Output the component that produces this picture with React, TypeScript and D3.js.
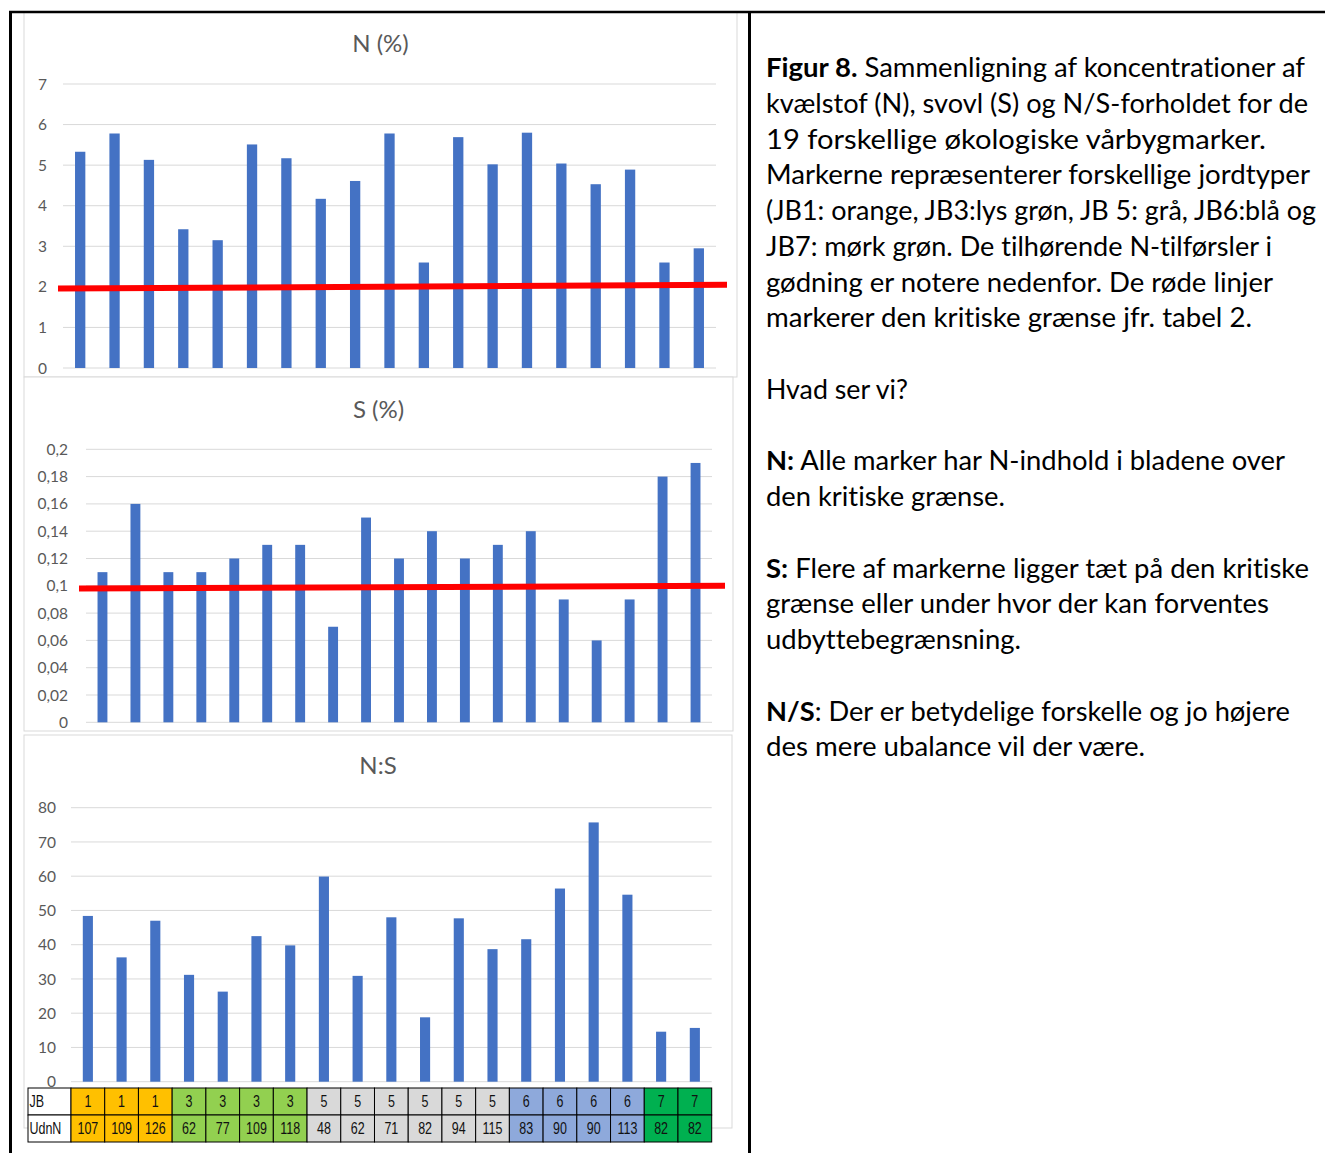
import React from 'react';
import * as d3 from 'd3';

// 19 organic spring barley fields
const fieldIds = ['1', '2', '3', '4', '5', '6', '7', '8', '9', '10', '11', '12', '13', '14', '15', '16', '17', '18', '19'];

const nPercent = [5.33, 5.78, 5.13, 3.42, 3.15, 5.51, 5.17, 4.17, 4.61, 5.78, 2.6, 5.69, 5.02, 5.8, 5.04, 4.53, 4.89, 2.6, 2.95];
const sPercent = [0.11, 0.16, 0.11, 0.11, 0.12, 0.13, 0.13, 0.07, 0.15, 0.12, 0.14, 0.12, 0.13, 0.14, 0.09, 0.06, 0.09, 0.18, 0.19];
const nsRatio = [48.4, 36.3, 47.0, 31.2, 26.3, 42.5, 39.8, 59.9, 30.9, 48.0, 18.8, 47.7, 38.7, 41.6, 56.4, 75.7, 54.6, 14.6, 15.7];

const jbTypes = [1, 1, 1, 3, 3, 3, 3, 5, 5, 5, 5, 5, 5, 6, 6, 6, 6, 7, 7];
const udnN = [107, 109, 126, 62, 77, 109, 118, 48, 62, 71, 82, 94, 115, 83, 90, 90, 113, 82, 82];

// critical limit (hand drawn, slightly tilted: start / end value)
const nCritical = [1.96, 2.05];
const sCritical = [0.098, 0.1];

const jbColor: Record<number, string> = {
  1: '#FFC000',
  3: '#92D050',
  5: '#D9D9D9',
  6: '#8EA9DB',
  7: '#00B050',
};

const FONT = "Lato, 'Open Sans', sans-serif";
const BAR = '#4472C4';
const GRID = '#D9D9D9';
const LABEL = '#595959';

const locale = d3.formatLocale({ decimal: ',', thousands: '.', grouping: [3], currency: ['', ' kr'] });
const fmtComma = locale.format('~r');

interface PanelLayout {
  box: [number, number, number, number];
  gridX: [number, number];
  yTop: number;
  yBottom: number;
  titleY: number;
  labelX: number;
  redX?: [number, number];
}

interface BarPanelProps {
  title: string;
  values: number[];
  domain: [number, number];
  tickCount: number;
  layout: PanelLayout;
  critical?: number[];
}

const BarPanel: React.FC<BarPanelProps> = ({ title, values, domain, tickCount, layout, critical }) => {
  const [bx0, by0, bx1, by1] = layout.box;
  const x = d3.scaleBand<string>().domain(fieldIds).range(layout.gridX).paddingInner(0.7).paddingOuter(0.35);
  const y = d3.scaleLinear().domain(domain).range([layout.yBottom, layout.yTop]);
  const ticks = y.ticks(tickCount);

  const redPath =
    critical && layout.redX
      ? d3.line()([
          [layout.redX[0], y(critical[0])],
          [layout.redX[1], y(critical[1])],
        ])
      : null;

  return (
    <g>
      <rect x={bx0} y={by0} width={bx1 - bx0} height={by1 - by0} fill="#fff" stroke={GRID} strokeWidth={1} />
      <text x={(bx0 + bx1) / 2} y={layout.titleY} dy="0.35em" textAnchor="middle" fontFamily={FONT} fontSize={24} fill={LABEL}>
        {title}
      </text>

      {/* gridlines + labels */}
      {ticks.map((t) => (
        <g key={t}>
          <line x1={layout.gridX[0]} x2={layout.gridX[1]} y1={y(t)} y2={y(t)} stroke={GRID} strokeWidth={1} />
          <text x={layout.labelX} y={y(t)} dy="0.36em" textAnchor="end" fontFamily={FONT} fontSize={15.5} fill={LABEL}>
            {fmtComma(t)}
          </text>
        </g>
      ))}

      {values.map((v, i) => (
        <rect
          key={fieldIds[i]}
          x={x(fieldIds[i])}
          y={y(v)}
          width={x.bandwidth()}
          height={y(domain[0]) - y(v)}
          fill={BAR}
        />
      ))}

      {redPath && <path d={redPath} stroke="#FF0000" strokeWidth={6} fill="none" />}
    </g>
  );
};

const nLayout: PanelLayout = { box: [24, 12, 737, 377], gridX: [63, 716], yTop: 84, yBottom: 368, titleY: 44, labelX: 47, redX: [58, 727] };
const sLayout: PanelLayout = { box: [24, 377, 733, 731], gridX: [86, 712], yTop: 449.3, yBottom: 722.3, titleY: 410, labelX: 68, redX: [79, 725] };
const nsLayout: PanelLayout = { box: [24, 735, 732, 1128], gridX: [71, 711.7], yTop: 807.7, yBottom: 1081.7, titleY: 766, labelX: 56 };

const JbTable: React.FC = () => {
  const col = d3.scaleBand<string>().domain(fieldIds).range(nsLayout.gridX);
  const rowY = [1088, 1115, 1142];
  const rows: { label: string; cells: number[] }[] = [
    { label: 'JB', cells: jbTypes },
    { label: 'UdnN', cells: udnN },
  ];
  const cellText = (cx: number, cy: number, s: string, anchor: string) => (
    <text
      transform={`translate(${cx},${cy}) scale(0.78,1)`}
      textAnchor={anchor}
      dy="0.36em"
      fontFamily="'Liberation Sans', Arial, sans-serif"
      fontSize={16}
      fill="#111"
    >
      {s}
    </text>
  );
  return (
    <g>
      {rows.map((r, ri) => {
        const y0 = rowY[ri];
        const h = rowY[ri + 1] - y0;
        return (
          <g key={r.label}>
            <rect x={28} y={y0} width={nsLayout.gridX[0] - 28} height={h} fill="#fff" stroke="#000" strokeWidth={1} />
            {cellText(29.5, y0 + h / 2, r.label, 'start')}
            {r.cells.map((c, i) => (
              <g key={i}>
                <rect x={col(fieldIds[i])} y={y0} width={col.bandwidth()} height={h} fill={jbColor[jbTypes[i]]} stroke="#000" strokeWidth={1} />
                {cellText((col(fieldIds[i]) ?? 0) + col.bandwidth() / 2, y0 + h / 2, String(c), 'middle')}
              </g>
            ))}
          </g>
        );
      })}
    </g>
  );
};

// caption text on the right, row index on a fixed line grid
const captionLines: { row: number; parts: [string, boolean][]; width: number }[] = [
  { row: 0, parts: [['Figur 8.', true], [' Sammenligning af koncentrationer af', false]], width: 539 },
  { row: 1, parts: [['kvælstof (N), svovl (S) og N/S-forholdet for de', false]], width: 542 },
  { row: 2, parts: [['19 forskellige økologiske vårbygmarker.', false]], width: 500 },
  { row: 3, parts: [['Markerne repræsenterer forskellige jordtyper', false]], width: 544 },
  { row: 4, parts: [['(JB1: orange, JB3:lys grøn, JB 5: grå, JB6:blå og', false]], width: 550 },
  { row: 5, parts: [['JB7: mørk grøn. De tilhørende N-tilførsler i', false]], width: 506 },
  { row: 6, parts: [['gødning er notere nedenfor. De røde linjer', false]], width: 507 },
  { row: 7, parts: [['markerer den kritiske grænse jfr. tabel 2.', false]], width: 486 },
  { row: 9, parts: [['Hvad ser vi?', false]], width: 142 },
  { row: 11, parts: [['N:', true], [' Alle marker har N-indhold i bladene over', false]], width: 519 },
  { row: 12, parts: [['den kritiske grænse.', false]], width: 239 },
  { row: 14, parts: [['S:', true], [' Flere af markerne ligger tæt på den kritiske', false]], width: 543 },
  { row: 15, parts: [['grænse eller under hvor der kan forventes', false]], width: 503 },
  { row: 16, parts: [['udbyttebegrænsning.', false]], width: 255 },
  { row: 18, parts: [['N/S', true], [': Der er betydelige forskelle og jo højere', false]], width: 524 },
  { row: 19, parts: [['des mere ubalance vil der være.', false]], width: 379 },
];

export default function App() {
  const W = 1325;
  const H = 1153;
  const captionY = d3.scaleLinear().domain([0, 1]).range([77, 112.75]);

  return (
    <svg width={W} height={H} style={{ position: 'absolute', left: 0, top: 0, display: 'block' }}>
      <rect width={W} height={H} fill="#fff" />

      <BarPanel title="N (%)" values={nPercent} domain={[0, 7]} tickCount={7} layout={nLayout} critical={nCritical} />
      <BarPanel title="S (%)" values={sPercent} domain={[0, 0.2]} tickCount={10} layout={sLayout} critical={sCritical} />
      <BarPanel title="N:S" values={nsRatio} domain={[0, 80]} tickCount={8} layout={nsLayout} />
      <JbTable />

      {/* document table frame */}
      <line x1={9} x2={W} y1={12} y2={12} stroke="#000" strokeWidth={2.5} />
      <line x1={10.5} x2={10.5} y1={11} y2={H} stroke="#000" strokeWidth={3} />
      <line x1={749.5} x2={749.5} y1={11} y2={H} stroke="#000" strokeWidth={3} />

      {captionLines.map((l) => (
        <text
          key={l.row}
          x={766}
          y={captionY(l.row)}
          fontFamily={FONT}
          fontSize={26}
          fill="#000"
          textLength={l.width}
          lengthAdjust="spacingAndGlyphs"
          style={{ fontVariantLigatures: 'none' }}
        >
          {l.parts.map(([s, bold], i) => (
            <tspan key={i} fontWeight={bold ? 700 : 400}>
              {s}
            </tspan>
          ))}
        </text>
      ))}
    </svg>
  );
}
